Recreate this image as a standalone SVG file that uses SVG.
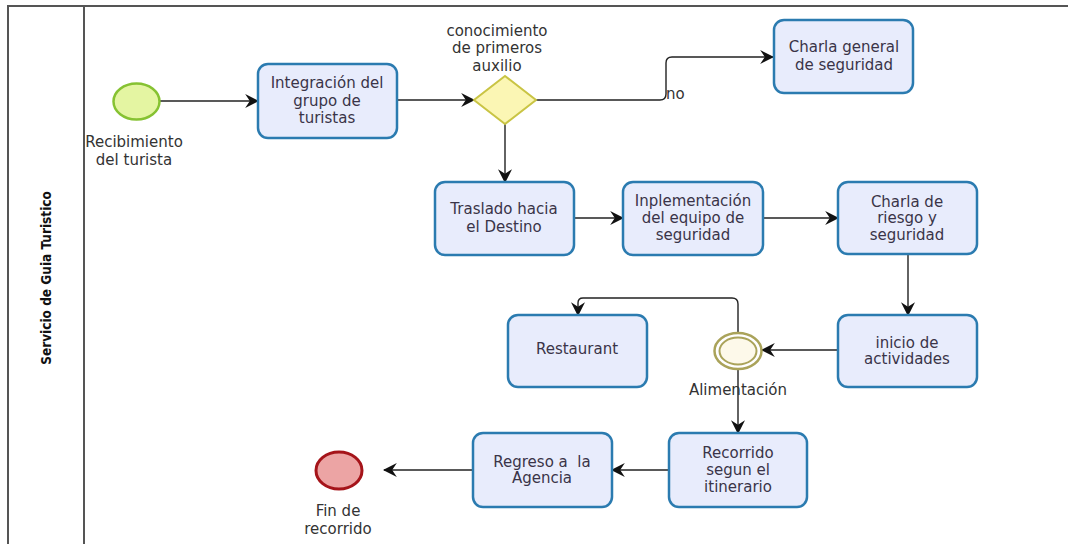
<svg xmlns="http://www.w3.org/2000/svg" width="1068" height="544" viewBox="0 0 1068 544">
<defs>
<marker id="arr" viewBox="0 0 12 12" refX="11" refY="6" markerWidth="14" markerHeight="14" markerUnits="userSpaceOnUse" orient="auto">
<path d="M0,0 L12,6 L0,12 L4,6 z" fill="#111"/>
</marker>
<style>
.task{fill:#e8ecfc;stroke:#2b7bb0;stroke-width:2.5}
.t{font-family:"DejaVu Sans",Verdana,sans-serif;font-size:15px;fill:#3a3448;text-anchor:middle;white-space:pre}
.lbl{font-family:"DejaVu Sans",Verdana,sans-serif;font-size:15px;fill:#333;text-anchor:middle}
.c{fill:none;stroke:#222;stroke-width:1.4;marker-end:url(#arr)}
.pool{stroke:#555;stroke-width:2;fill:none}
</style>
</defs>
<rect width="1068" height="544" fill="#fff"/>
<g id="pool">
<path class="pool" d="M1068,6 L8,6 L8,544 M84,6 L84,544"/>
<text transform="translate(51,278) rotate(-90)" text-anchor="middle" font-family="'DejaVu Sans Condensed','Liberation Sans Narrow','Liberation Sans',sans-serif" font-weight="bold" font-size="13.5" fill="#111">Servicio de Guia Turistico</text>
</g>
<g id="connectors">
<path class="c" d="M160,101 L258,101"/>
<path class="c" d="M397,100 L474,100"/>
<path class="c" d="M536,100 L660,100 Q666,100 666,94 L666,63 Q666,57 672,57 L773,57"/>
<path class="c" d="M505,124 L505,182"/>
<path class="c" d="M574,218 L623,218"/>
<path class="c" d="M763,218 L838,218"/>
<path class="c" d="M908,254 L908,315"/>
<path class="c" d="M838,350 L762,350"/>
<path class="c" d="M738,333 L738,304 Q738,298 732,298 L583,298 Q578,298 578,303 L578,315"/>
<path class="c" d="M738,370 L738,433"/>
<path class="c" d="M669,470 L612,470"/>
<path class="c" d="M473,470 L384,470"/>
<text x="666" y="99" font-family="'DejaVu Sans',Verdana,sans-serif" font-size="15" fill="#333">no</text>
</g>
<g id="start">
<ellipse cx="136.5" cy="101.5" rx="23" ry="18" fill="#e4f5a2" stroke="#86c232" stroke-width="2.5"/>
<text class="lbl" x="134" y="147">Recibimiento</text>
<text class="lbl" x="134" y="165">del turista</text>
</g>
<g id="integracion">
<rect class="task" x="258" y="64" width="139" height="74" rx="10"/>
<text class="t" x="327" y="88">Integración del</text>
<text class="t" x="327" y="106">grupo de</text>
<text class="t" x="327" y="123">turistas</text>
</g>
<g id="gateway">
<path d="M505,76 L536,100 L505,124 L474,100 Z" fill="#fbf6b4" stroke="#c9c444" stroke-width="2"/>
<text class="lbl" x="497" y="36">conocimiento</text>
<text class="lbl" x="497" y="53">de primeros</text>
<text class="lbl" x="497" y="71">auxilio</text>
</g>
<g id="charla-general">
<rect class="task" x="774" y="20" width="139" height="73" rx="10"/>
<text class="t" x="844" y="52">Charla general</text>
<text class="t" x="844" y="70">de seguridad</text>
</g>
<g id="traslado">
<rect class="task" x="435" y="182" width="139" height="73" rx="10"/>
<text class="t" x="504" y="214">Traslado hacia</text>
<text class="t" x="504" y="232">el Destino</text>
</g>
<g id="implementacion">
<rect class="task" x="623" y="182" width="140" height="73" rx="10"/>
<text class="t" x="693" y="206">Inplementación</text>
<text class="t" x="693" y="223">del equipo de</text>
<text class="t" x="693" y="240">seguridad</text>
</g>
<g id="charla-riesgo">
<rect class="task" x="838" y="182" width="139" height="72" rx="10"/>
<text class="t" x="907" y="207">Charla de</text>
<text class="t" x="907" y="223">riesgo y</text>
<text class="t" x="907" y="240">seguridad</text>
</g>
<g id="inicio">
<rect class="task" x="838" y="315" width="139" height="72" rx="10"/>
<text class="t" x="907" y="348">inicio de</text>
<text class="t" x="907" y="364">actividades</text>
</g>
<g id="alimentacion">
<ellipse cx="738" cy="351" rx="23.5" ry="18" fill="none" stroke="#aaa35a" stroke-width="2.5"/>
<ellipse cx="738" cy="351" rx="18.5" ry="13.5" fill="#fdf9ea" stroke="#aaa35a" stroke-width="2"/>
<text class="lbl" x="738" y="395">Alimentación</text>
</g>
<g id="restaurant">
<rect class="task" x="508" y="315" width="139" height="72" rx="10"/>
<text class="t" x="577" y="354">Restaurant</text>
</g>
<g id="recorrido">
<rect class="task" x="669" y="433" width="138" height="74" rx="10"/>
<text class="t" x="738" y="458">Recorrido</text>
<text class="t" x="738" y="475">segun el</text>
<text class="t" x="738" y="492">itinerario</text>
</g>
<g id="regreso">
<rect class="task" x="473" y="433" width="139" height="74" rx="10"/>
<text class="t" x="542" y="467">Regreso a  la</text>
<text class="t" x="542" y="483">Agencia</text>
</g>
<g id="fin">
<ellipse cx="339" cy="470.5" rx="23" ry="18.5" fill="#eca4a4" stroke="#a5141a" stroke-width="3"/>
<text class="lbl" x="338" y="516">Fin de</text>
<text class="lbl" x="338" y="534">recorrido</text>
</g>
</svg>
